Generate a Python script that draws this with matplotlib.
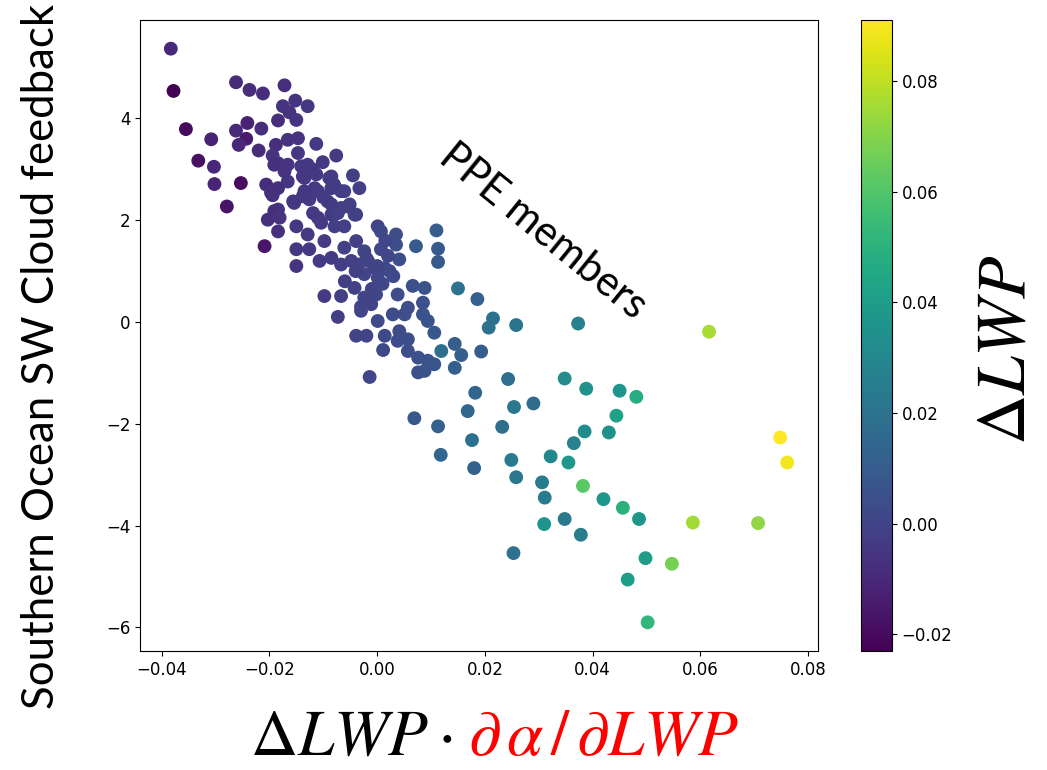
import numpy as np
import matplotlib
matplotlib.use("Agg")
import matplotlib.pyplot as plt

# PPE members: x = dLWP * dalpha/dLWP, y = SO SW cloud feedback, c = dLWP
x_vals = [
    -0.0383, -0.0378, -0.0262, -0.0237, -0.0212, -0.0172, -0.0152, -0.0129, -0.0175, -0.0163,
    -0.0150, -0.0184, -0.0241, -0.0215, -0.0262, -0.0243, -0.0257, -0.0355, -0.0308, -0.0147,
    -0.0166, -0.0188, -0.0113, -0.0220, -0.0076, -0.0147, -0.0194, -0.0332, -0.0303, -0.0101,
    -0.0184, -0.0166, -0.0141, -0.0045, -0.0033, -0.0302, -0.0253, -0.0206, -0.0166, -0.0184,
    -0.0135, -0.0113, -0.0089, -0.0116, -0.0067, -0.0135, -0.0194, -0.0154, -0.0126, -0.0092,
    -0.0067, -0.0051, -0.0039, -0.0279, -0.0184, -0.0203, -0.0150, -0.0110, -0.0085, 0.0001,
    -0.0129, -0.0191, -0.0172, -0.0138, -0.0085, -0.0110, -0.0085, -0.0061, -0.0054, -0.0042,
    -0.0085, -0.0073, -0.0119, -0.0104, -0.0079, -0.0061, -0.0191, -0.0181, -0.0156, -0.0138,
    -0.0197,
    -0.0184, -0.0209, -0.0129, -0.0150, -0.0126, -0.0150, -0.0107, -0.0098, -0.0085, -0.0061,
    -0.0024, -0.0039, -0.0067, -0.0048, -0.0036, -0.0017, -0.0005, -0.0024, 0.0001, 0.0007,
    0.0035, 0.0035, 0.0007, 0.0041, 0.0014, 0.0023, 0.0072, 0.0110, 0.0113, 0.0113,
    -0.0098, -0.0067, -0.0042, -0.0024, -0.0011, -0.0030, -0.0002, 0.0038, 0.0066, 0.0088,
    0.0085, 0.0057, 0.0051, 0.0029, 0.0001, 0.0085, 0.0094, 0.0106, 0.0150, -0.0073,
    -0.0039, -0.0020, 0.0014, 0.0041, 0.0038, 0.0057, 0.0011, 0.0057, 0.0076, 0.0094,
    0.0106, 0.0119, 0.0144, 0.0156, 0.0144, 0.0076, 0.0088, -0.0014,
    -0.0020, 0.0000, 0.0020, -0.0040, 0.0010, -0.0010, 0.0030, -0.0060, 0.0015, -0.0030,
    -0.0100, -0.0080, -0.0120,
    0.0186, 0.0215, 0.0207, 0.0258, 0.0193, 0.0243, 0.0182,
    0.0373, 0.0348, 0.0388, 0.0450, 0.0481, 0.0168, 0.0254, 0.0290, 0.0444, 0.0069,
    0.0113, 0.0232, 0.0385, 0.0430, 0.0176, 0.0365, 0.0118, 0.0249, 0.0322, 0.0355,
    0.0180, 0.0258, 0.0306, 0.0382, 0.0311, 0.0420, 0.0456, 0.0486, 0.0310, 0.0348,
    0.0378, 0.0586, 0.0253, 0.0498, 0.0547, 0.0465, 0.0502,
    0.0616, 0.0748, 0.0761, 0.0707,
]
y_vals = [
    5.37, 4.54, 4.71, 4.56, 4.49, 4.65, 4.35, 4.24, 4.24, 4.12,
    3.97, 3.96, 3.91, 3.80, 3.76, 3.60, 3.48, 3.79, 3.59, 3.61,
    3.58, 3.48, 3.50, 3.37, 3.27, 3.32, 3.27, 3.17, 3.05, 3.14,
    3.12, 3.09, 3.06, 2.88, 2.63, 2.71, 2.73, 2.70, 2.76, 2.63,
    2.83, 2.90, 2.83, 2.63, 2.57, 2.57, 2.49, 2.34, 2.41, 2.37,
    2.24, 2.31, 2.11, 2.27, 2.21, 2.01, 1.88, 2.05, 2.11, 1.88,
    3.09, 3.09, 2.96, 2.86, 2.86, 2.57, 2.63, 2.57, 2.27, 2.11,
    2.31, 2.14, 2.14, 1.95, 1.88, 1.88, 2.18, 2.05, 2.37, 2.47,
    2.54,
    1.78, 1.49, 1.72, 1.43, 1.43, 1.10, 1.20, 1.59, 1.26, 1.46,
    1.39, 1.59, 1.13, 1.20, 1.13, 1.20, 1.06, 0.94, 0.87, 1.78,
    1.72, 1.52, 1.43, 1.23, 1.06, 1.00, 1.49, 1.80, 1.44, 1.18,
    0.51, 0.51, 0.67, 0.48, 0.35, 0.22, 0.54, 0.54, 0.71, 0.67,
    0.38, 0.28, 0.15, 0.15, 0.02, 0.15, 0.02, -0.21, 0.66, 0.10,
    -0.27, -0.27, -0.27, -0.18, -0.37, -0.34, -0.55, -0.57, -0.70, -0.76,
    -0.83, -0.57, -0.43, -0.65, -0.90, -0.99, -0.96, -1.08,
    1.25, 1.10, 1.30, 1.00, 0.75, 0.65, 0.90, 0.80, 1.60, 0.30,
    2.45, 2.70, 3.00,
    0.45, 0.07, -0.11, -0.06, -0.58, -1.12, -1.39,
    -0.03, -1.11, -1.31, -1.35, -1.47, -1.75, -1.67, -1.60, -1.84, -1.89,
    -2.05, -2.06, -2.15, -2.17, -2.32, -2.38, -2.61, -2.71, -2.64, -2.76,
    -2.87, -3.05, -3.15, -3.22, -3.45, -3.48, -3.65, -3.87, -3.97, -3.87,
    -4.18, -3.94, -4.54, -4.64, -4.75, -5.06, -5.90,
    -0.19, -2.27, -2.76, -3.95,
]
dlwp = [
    -0.010, -0.023, -0.009, -0.008, -0.008, -0.007, -0.006, -0.005, -0.006, -0.006,
    -0.006, -0.008, -0.012, -0.008, -0.010, -0.014, -0.010, -0.020, -0.012, -0.006,
    -0.006, -0.007, -0.004, -0.009, -0.003, -0.005, -0.006, -0.018, -0.010, -0.004,
    -0.006, -0.006, -0.005, -0.002, -0.002, -0.011, -0.019, -0.008, -0.006, -0.007,
    -0.005, -0.004, -0.003, -0.004, -0.003, -0.005, -0.007, -0.005, -0.004, -0.003,
    -0.002, -0.002, -0.001, -0.017, -0.006, -0.007, -0.005, -0.004, -0.003, 0.000,
    -0.004, -0.007, -0.006, -0.005, -0.003, -0.004, -0.003, -0.002, -0.002, -0.001,
    -0.003, -0.002, -0.004, -0.003, -0.002, -0.002, -0.007, -0.006, -0.005, -0.005,
    -0.007,
    -0.007, -0.016, -0.004, -0.005, -0.004, -0.006, -0.004, -0.003, -0.003, -0.001,
    0.000, -0.001, -0.002, -0.001, -0.001, 0.000, 0.000, 0.000, 0.001, 0.002,
    0.004, 0.004, 0.001, 0.004, 0.002, 0.002, 0.009, 0.010, 0.009, 0.009,
    -0.003, -0.002, -0.001, 0.000, 0.000, 0.000, 0.001, 0.003, 0.005, 0.006,
    0.005, 0.004, 0.004, 0.003, 0.002, 0.006, 0.006, 0.008, 0.020, -0.002,
    0.000, 0.000, 0.002, 0.003, 0.003, 0.004, 0.002, 0.004, 0.005, 0.006,
    0.007, 0.018, 0.010, 0.011, 0.011, 0.005, 0.006, 0.001,
    0.000, 0.000, 0.001, -0.001, 0.001, 0.000, 0.002, -0.002, 0.001, 0.000,
    -0.004, -0.003, -0.005,
    0.012, 0.020, 0.020, 0.021, 0.010, 0.018, 0.014,
    0.026, 0.031, 0.034, 0.036, 0.048, 0.014, 0.022, 0.017, 0.042, 0.008,
    0.012, 0.018, 0.032, 0.034, 0.020, 0.027, 0.014, 0.024, 0.030, 0.038,
    0.013, 0.022, 0.024, 0.062, 0.024, 0.037, 0.050, 0.037, 0.036, 0.022,
    0.025, 0.075, 0.019, 0.040, 0.067, 0.040, 0.052,
    0.076, 0.091, 0.089, 0.072,
]

plt.rcParams['mathtext.fontset'] = 'stix'

fig = plt.figure(figsize=(10.47, 7.7), dpi=100)
ax = fig.add_axes([140/1047, 119/770, 678/1047, 631/770])
cax = fig.add_axes([861/1047, 119/770, 31/1047, 631/770])

sc = ax.scatter(x_vals, y_vals, c=dlwp, cmap='viridis', s=80)
ax.set_xticks([-0.04, -0.02, 0.00, 0.02, 0.04, 0.06, 0.08])
ax.tick_params(labelsize=12)
cb = fig.colorbar(sc, cax=cax)
cb.ax.tick_params(labelsize=12)

ax.text(0.595, 0.665, "PPE members", transform=ax.transAxes, rotation=-39,
        ha='center', va='center', fontsize=30, family='Lato')

fig.text(42/1047, 1 - 356/770, "Southern Ocean SW Cloud feedback", rotation=90,
         ha='center', va='center', fontsize=31.5, family='Lato')
fig.text(452/1047, 0.02, r'$\Delta LWP\cdot$', ha='right', va='baseline',
         fontsize=47, color='black')
fig.text(468/1047, 0.02, r'$\partial\,\alpha\,/\,\partial L W P$', ha='left', va='baseline',
         fontsize=47, color='red')
fig.text(1005/1047, 1 - 350/770, r'$\Delta LWP$', rotation=90,
         ha='center', va='center', fontsize=50)

fig.savefig("out.png", dpi=100)
